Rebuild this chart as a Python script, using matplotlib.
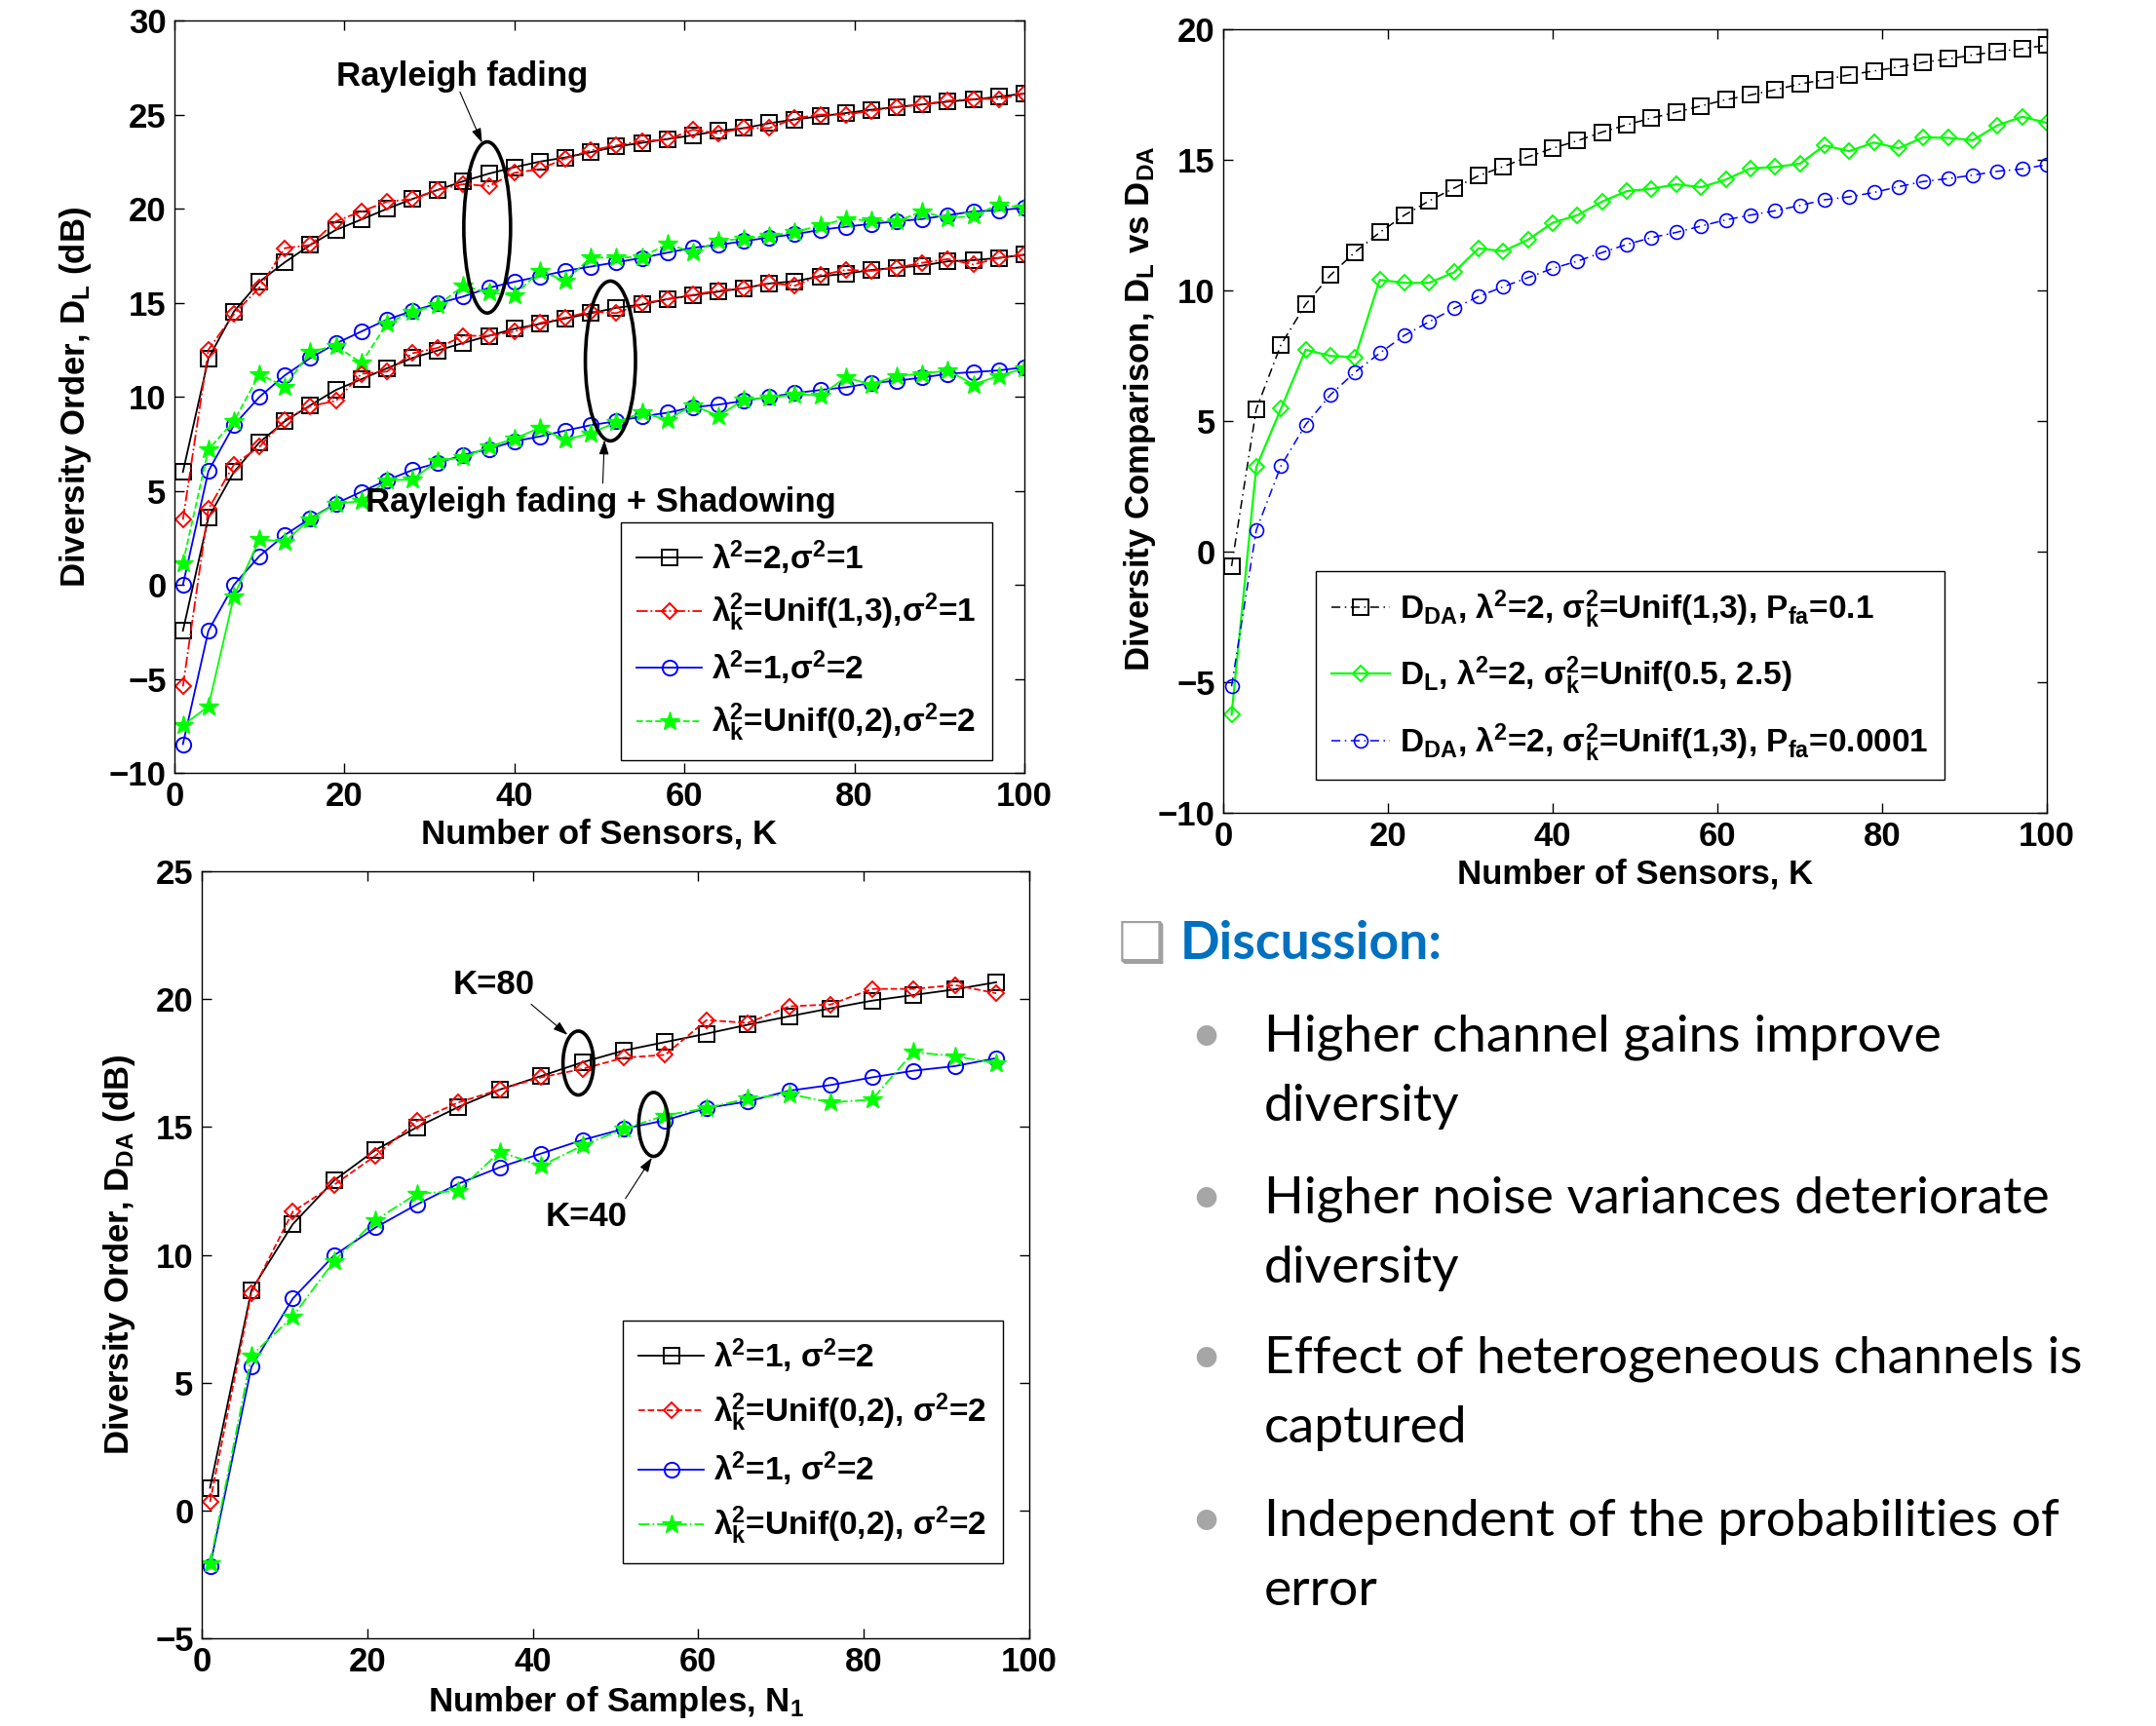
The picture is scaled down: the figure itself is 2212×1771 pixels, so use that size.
import numpy as np
import matplotlib
matplotlib.use("Agg")
import matplotlib.pyplot as plt
from matplotlib.patches import Ellipse

plt.rcParams['font.family'] = ['Liberation Sans', 'DejaVu Sans']
plt.rcParams['font.weight'] = 'bold'
plt.rcParams['mathtext.fontset'] = 'custom'
plt.rcParams['mathtext.rm'] = 'Liberation Sans:bold'
plt.rcParams['mathtext.bf'] = 'Liberation Sans:bold'
plt.rcParams['mathtext.it'] = 'Liberation Sans:bold'
plt.rcParams['mathtext.default'] = 'bf'

# ---- top left: D_L vs number of sensors ----
tl_k = np.arange(1, 101, 3)
tl_ray_1 = [6.0, 12.03, 14.53, 16.11, 17.15, 18.07, 18.87, 19.42, 19.99, 20.51, 21.0, 21.46, 21.86, 22.2,
            22.5, 22.72, 23.0, 23.3, 23.5, 23.7, 23.9, 24.13, 24.28, 24.54, 24.74, 24.91, 25.08, 25.26,
            25.4, 25.54, 25.69, 25.8, 25.95, 26.12]
tl_ray_2 = [3.46, 12.5, 14.4, 15.8, 17.9, 18.07, 19.33, 19.85, 20.37, 20.5, 21.0, 21.3, 21.2, 21.9,
            22.1, 22.67, 23.1, 23.36, 23.6, 23.67, 24.2, 24.0, 24.28, 24.28, 24.8, 25.0, 25.0, 25.2,
            25.4, 25.54, 25.74, 25.83, 25.83, 26.12]
tl_ray_3 = [0.0, 6.05, 8.49, 9.99, 11.14, 12.06, 12.83, 13.47, 14.1, 14.56, 14.96, 15.33, 15.79, 16.11,
            16.4, 16.69, 16.92, 17.15, 17.38, 17.66, 17.92, 18.07, 18.27, 18.47, 18.64, 18.87, 19.04,
            19.19, 19.33, 19.45, 19.65, 19.85, 19.91, 20.05]
tl_ray_4 = [1.16, 7.2, 8.7, 11.2, 10.53, 12.4, 12.7, 11.8, 13.87, 14.53, 14.87, 15.9, 15.53, 15.39,
            16.69, 16.17, 17.4, 17.4, 17.43, 18.12, 17.69, 18.27, 18.41, 18.56, 18.76, 19.1, 19.45,
            19.36, 19.33, 19.85, 19.48, 19.62, 20.22, 20.05]
tl_sh_1 = [-2.44, 3.57, 6.0, 7.57, 8.7, 9.55, 10.36, 10.93, 11.51, 12.06, 12.46, 12.86, 13.24, 13.61,
           13.87, 14.16, 14.44, 14.73, 14.9, 15.19, 15.39, 15.59, 15.77, 16.02, 16.14, 16.4, 16.54,
           16.74, 16.86, 16.97, 17.2, 17.26, 17.38, 17.55]
tl_sh_2 = [-5.4, 4.03, 6.39, 7.34, 8.78, 9.5, 9.78, 11.22, 11.34, 12.31, 12.6, 13.24, 13.24, 13.47,
           13.92, 14.21, 14.53, 14.44, 14.96, 15.19, 15.42, 15.65, 15.77, 16.05, 15.9, 16.46, 16.74,
           16.69, 16.86, 17.12, 17.32, 17.03, 17.38, 17.55]
tl_sh_3 = [-8.47, -2.44, 0.0, 1.53, 2.65, 3.54, 4.32, 4.95, 5.56, 6.1, 6.48, 6.91, 7.22, 7.63, 7.89,
           8.2, 8.49, 8.7, 8.95, 9.15, 9.44, 9.58, 9.78, 9.99, 10.19, 10.36, 10.5, 10.73, 10.85, 11.02,
           11.22, 11.31, 11.4, 11.57]
tl_sh_4 = [-7.47, -6.46, -0.6, 2.42, 2.3, 3.5, 4.3, 4.46, 5.56, 5.6, 6.6, 6.77, 7.34, 7.77, 8.35, 7.7,
           8.06, 8.64, 9.15, 8.78, 9.55, 8.98, 9.84, 9.93, 10.13, 10.07, 11.02, 10.65, 11.11, 11.22,
           11.4, 10.65, 11.11, 11.51]
tl_labels = ['λ$^2$=2,σ$^2$=1', 'λ${}_k^2$=Unif(1,3),σ$^2$=1',
             'λ$^2$=1,σ$^2$=2', 'λ${}_k^2$=Unif(0,2),σ$^2$=2']

# ---- top right: D_L vs D_DA ----
tr_k = np.arange(1, 101, 3)
tr_da_1 = [-0.56, 5.45, 7.92, 9.46, 10.58, 11.47, 12.22, 12.88, 13.43, 13.91, 14.39, 14.74, 15.11,
           15.44, 15.73, 16.06, 16.34, 16.6, 16.82, 17.06, 17.3, 17.48, 17.68, 17.9, 18.07, 18.25,
           18.4, 18.55, 18.73, 18.86, 19.01, 19.15, 19.25, 19.39]
tr_dl = [-6.25, 3.23, 5.47, 7.73, 7.49, 7.44, 10.4, 10.29, 10.29, 10.69, 11.61, 11.5, 11.94, 12.59,
         12.88, 13.4, 13.8, 13.89, 14.06, 13.95, 14.24, 14.67, 14.72, 14.85, 15.55, 15.33, 15.66,
         15.44, 15.86, 15.84, 15.75, 16.32, 16.65, 16.41]
tr_da_2 = [-5.16, 0.82, 3.28, 4.86, 6.0, 6.87, 7.6, 8.28, 8.8, 9.31, 9.77, 10.14, 10.49, 10.84, 11.12,
           11.45, 11.76, 12.02, 12.22, 12.46, 12.7, 12.88, 13.05, 13.25, 13.47, 13.58, 13.75, 13.97,
           14.17, 14.28, 14.41, 14.56, 14.65, 14.81]
tr_labels = ['D$_{DA}$, λ$^2$=2, σ${}_k^2$=Unif(1,3), P$_{fa}$=0.1',
             'D$_L$, λ$^2$=2, σ${}_k^2$=Unif(0.5, 2.5)',
             'D$_{DA}$, λ$^2$=2, σ${}_k^2$=Unif(1,3), P$_{fa}$=0.0001']

# ---- bottom left: D_DA vs number of samples ----
bl_n = np.arange(1, 97, 5)
bl_k80_1 = [0.89, 8.62, 11.2, 12.91, 14.1, 14.99, 15.78, 16.46, 16.99, 17.53, 17.99, 18.32, 18.65,
            19.0, 19.33, 19.64, 19.94, 20.16, 20.38, 20.66]
bl_k80_2 = [0.34, 8.51, 11.69, 12.74, 13.88, 15.23, 15.96, 16.46, 16.94, 17.27, 17.71, 17.82, 19.18,
            19.07, 19.72, 19.79, 20.4, 20.4, 20.55, 20.23]
bl_k40_1 = [-2.17, 5.62, 8.29, 9.98, 11.07, 11.97, 12.78, 13.42, 13.96, 14.49, 14.93, 15.26, 15.74,
            16.0, 16.42, 16.64, 16.94, 17.2, 17.38, 17.69]
bl_k40_2 = [-2.06, 6.06, 7.59, 9.76, 11.36, 12.39, 12.5, 14.03, 13.48, 14.27, 14.93, 15.45, 15.74,
            16.11, 16.29, 15.96, 16.07, 17.93, 17.77, 17.49]
bl_labels = ['λ$^2$=1, σ$^2$=2', 'λ${}_k^2$=Unif(0,2), σ$^2$=2',
             'λ$^2$=1, σ$^2$=2', 'λ${}_k^2$=Unif(0,2), σ$^2$=2']

bullets = [('Higher channel gains improve', 'diversity'),
           ('Higher noise variances deteriorate', 'diversity'),
           ('Effect of heterogeneous channels is', 'captured'),
           ('Independent of the probabilities of', 'error')]

GREEN = '#00FF00'
TICK_FS = 25
LABEL_FS = 25
LEG_FS = 24


def style_axes(ax):
    ax.tick_params(direction='in', top=True, right=True, length=7, width=1,
                   labelsize=TICK_FS, pad=6)
    for sp in ax.spines.values():
        sp.set_linewidth(1)
    for lab in ax.get_xticklabels() + ax.get_yticklabels():
        lab.set_fontweight('bold')


def arrow(ax, start, end):
    ax.annotate('', xy=end, xytext=start,
                arrowprops=dict(arrowstyle='-|>,head_length=0.9,head_width=0.3',
                                color='k', lw=0.8, shrinkA=0, shrinkB=0))


def add_legend(ax, loc, anchor, spacing, hlen):
    ax.legend(loc=loc, bbox_to_anchor=anchor, fontsize=LEG_FS, frameon=True, fancybox=False,
              edgecolor='k', framealpha=1, handlelength=hlen, handletextpad=0.3,
              labelspacing=spacing, borderpad=0.5, borderaxespad=0)


fig = plt.figure(figsize=(22.12, 17.71), dpi=100)

sq = dict(marker='s', markersize=12, markerfacecolor='none', markeredgewidth=1.4)
ci = dict(marker='o', markersize=11, markerfacecolor='none', markeredgewidth=1.4)
di = dict(marker='D', markersize=8.5, markerfacecolor='none', markeredgewidth=1.4)
st = dict(marker='*', markersize=15)

# top left
ax1 = fig.add_axes([0.0809, 0.5522, 0.3942, 0.4359])
ax1.plot(tl_k, tl_ray_1, '-', color='k', lw=1.3, label=tl_labels[0], **sq)
ax1.plot(tl_k, tl_ray_2, '-.', color='r', lw=1.3, label=tl_labels[1], **di)
ax1.plot(tl_k, tl_ray_3, '-', color='b', lw=1.3, label=tl_labels[2], **ci)
ax1.plot(tl_k, tl_ray_4, '--', color=GREEN, lw=1.3, label=tl_labels[3], **st)
ax1.plot(tl_k, tl_sh_1, '-', color='k', lw=1.3, **sq)
ax1.plot(tl_k, tl_sh_2, '-.', color='r', lw=1.3, **di)
ax1.plot(tl_k, tl_sh_3, '-', color='b', lw=1.3, **ci)
ax1.plot(tl_k, tl_sh_4, '-', color=GREEN, lw=1.3, **st)
ax1.set_xlim(0, 100)
ax1.set_ylim(-10, 30)
ax1.set_xticks([0, 20, 40, 60, 80, 100])
ax1.set_yticks(np.arange(-10, 31, 5))
ax1.set_xlabel('Number of Sensors, K', fontsize=LABEL_FS, fontweight='bold')
ax1.set_ylabel('Diversity Order, D$_L$ (dB)', fontsize=LABEL_FS, fontweight='bold')
ax1.yaxis.set_label_coords(-0.095, 0.5)
style_axes(ax1)
add_legend(ax1, 'lower right', (0.962, 0.017), 0.45, 2.0)
ax1.text(33.8, 27.0, 'Rayleigh fading', fontsize=LABEL_FS, fontweight='bold',
         ha='center', va='center')
arrow(ax1, (33.6, 26.2), (36.2, 23.5))
ax1.add_patch(Ellipse((36.8, 19.0), 5.5, 9.1, fill=False, lw=2.6, color='k', zorder=5))
ax1.add_patch(Ellipse((51.3, 11.9), 5.9, 8.5, fill=False, lw=2.6, color='k', zorder=5))
arrow(ax1, (50.4, 5.4), (50.6, 7.7))
ax1.text(22.5, 4.4, 'Rayleigh fading + Shadowing', fontsize=LABEL_FS, fontweight='bold',
         ha='left', va='center')

# top right
ax2 = fig.add_axes([0.5674, 0.5291, 0.3820, 0.4540])
ax2.plot(tr_k, tr_da_1, color='k', ls=(0, (6, 3, 1, 3)), lw=1.1, label=tr_labels[0], **sq)
ax2.plot(tr_k, tr_dl, '-', color=GREEN, lw=1.6, label=tr_labels[1], **di)
ax2.plot(tr_k, tr_da_2, color='b', ls=(0, (6, 3, 1, 3)), lw=1.1, label=tr_labels[2],
         marker='o', markersize=10, markerfacecolor='none', markeredgewidth=1.2)
ax2.set_xlim(0, 100)
ax2.set_ylim(-10, 20)
ax2.set_xticks([0, 20, 40, 60, 80, 100])
ax2.set_yticks(np.arange(-10, 21, 5))
ax2.set_xlabel('Number of Sensors, K', fontsize=LABEL_FS, fontweight='bold')
ax2.set_ylabel('Diversity Comparison, D$_L$ vs D$_{DA}$', fontsize=LABEL_FS, fontweight='bold')
ax2.yaxis.set_label_coords(-0.079, 0.516)
style_axes(ax2)
add_legend(ax2, 'lower left', (0.112, 0.042), 0.75, 1.8)

# bottom left
ax3 = fig.add_axes([0.0936, 0.0508, 0.3838, 0.4444])
ax3.plot(bl_n, bl_k80_1, '-', color='k', lw=1.3, label=bl_labels[0], **sq)
ax3.plot(bl_n, bl_k80_2, '--', color='r', lw=1.3, label=bl_labels[1], **di)
ax3.plot(bl_n, bl_k40_1, '-', color='b', lw=1.3, label=bl_labels[2], **ci)
ax3.plot(bl_n, bl_k40_2, '-.', color=GREEN, lw=1.3, label=bl_labels[3], **st)
ax3.set_xlim(0, 100)
ax3.set_ylim(-5, 25)
ax3.set_xticks([0, 20, 40, 60, 80, 100])
ax3.set_yticks(np.arange(-5, 26, 5))
ax3.set_xlabel('Number of Samples, N$_1$', fontsize=LABEL_FS, fontweight='bold')
ax3.set_ylabel('Diversity Order, D$_{DA}$ (dB)', fontsize=LABEL_FS, fontweight='bold')
ax3.yaxis.set_label_coords(-0.078, 0.5)
style_axes(ax3)
add_legend(ax3, 'lower right', (0.968, 0.098), 0.5, 2.0)
ax3.text(35.3, 20.55, 'K=80', fontsize=LABEL_FS, fontweight='bold', ha='center', va='center')
arrow(ax3, (39.8, 19.8), (44.2, 18.6))
ax3.add_patch(Ellipse((45.5, 17.5), 3.7, 2.5, fill=False, lw=2.6, color='k', zorder=5))
ax3.text(46.5, 11.5, 'K=40', fontsize=LABEL_FS, fontweight='bold', ha='center', va='center')
arrow(ax3, (51.2, 12.2), (54.4, 13.8))
ax3.add_patch(Ellipse((54.6, 15.1), 3.6, 2.5, fill=False, lw=2.6, color='k', zorder=5))

# discussion text
W, H = 2212.0, 1771.0
fig.text(1147 / W, 1 - 986 / H, '❑', fontsize=40, color='#A0A0A0', family='DejaVu Sans',
         fontweight='normal', va='baseline', ha='left')
fig.text(1211 / W, 1 - 984 / H, 'Discussion:', fontsize=38.5, color='#0070C0',
         family='Lato', fontweight='bold', va='baseline', ha='left')
bullet_y = [1079, 1245, 1409, 1576]
for y, (line1, line2) in zip(bullet_y, bullets):
    fig.text(1237 / W, 1 - y / H, '•', fontsize=40, color='#A6A6A6', family='Lato',
             fontweight='normal', va='baseline', ha='center')
    fig.text(1297 / W, 1 - y / H, line1, fontsize=38.5, color='k', family='Lato',
             fontweight='normal', va='baseline', ha='left')
    fig.text(1297 / W, 1 - (y + 71) / H, line2, fontsize=38.5, color='k', family='Lato',
             fontweight='normal', va='baseline', ha='left')

fig.savefig('out.png', dpi=100)
